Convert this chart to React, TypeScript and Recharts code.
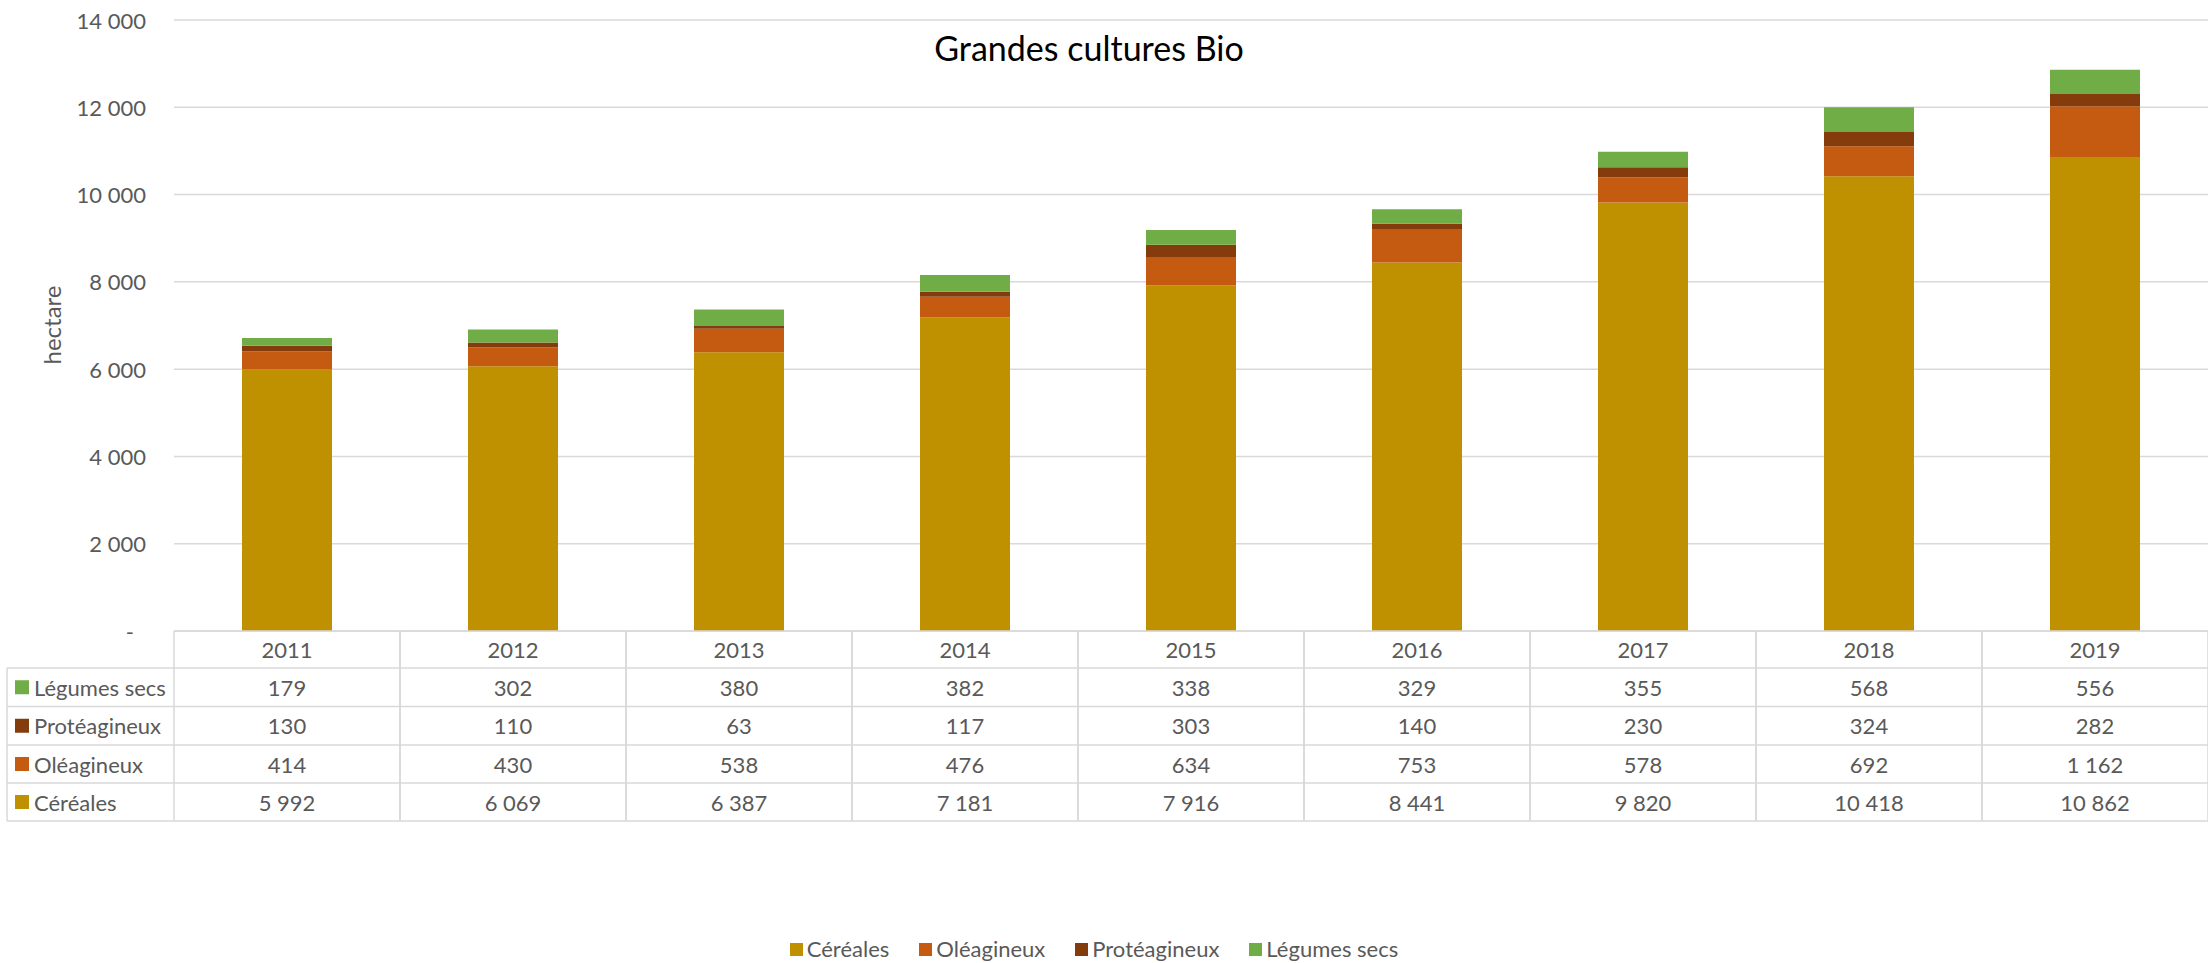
import React from 'react';
import { BarChart, Bar, XAxis, YAxis, CartesianGrid } from 'recharts';

const years = ['2011', '2012', '2013', '2014', '2015', '2016', '2017', '2018', '2019'];
const cereales = [5992, 6069, 6387, 7181, 7916, 8441, 9820, 10418, 10862];
const oleagineux = [414, 430, 538, 476, 634, 753, 578, 692, 1162];
const proteagineux = [130, 110, 63, 117, 303, 140, 230, 324, 282];
const legumes = [179, 302, 380, 382, 338, 329, 355, 568, 556];
const yTicks = [0, 2000, 4000, 6000, 8000, 10000, 12000, 14000];

const series = [
  { key: 'cereales', name: 'Céréales', color: '#BF9000', values: cereales },
  { key: 'oleagineux', name: 'Oléagineux', color: '#C55A11', values: oleagineux },
  { key: 'proteagineux', name: 'Protéagineux', color: '#843C0C', values: proteagineux },
  { key: 'legumes', name: 'Légumes secs', color: '#70AD47', values: legumes },
];
// table rows order (top to bottom)
const tableRows = [series[3], series[2], series[1], series[0]];

const data = years.map((y, i) => ({
  year: y,
  cereales: cereales[i],
  oleagineux: oleagineux[i],
  proteagineux: proteagineux[i],
  legumes: legumes[i],
}));

const W = 2208;
const H = 963;
const PLOT_LEFT = 174;
const PLOT_W = W - PLOT_LEFT;
const COL_W = PLOT_W / years.length;
const ROW_EDGES = [0, 37, 75.5, 114, 152, 190];
const TABLE_LEFT = 7;
const FONT = 'Lato, "Open Sans", sans-serif';
const TXT = '#595959';
const BORDER = '#D9D9D9';

const fmt = (n: number) => (n === 0 ? '-' : String(n).replace(/\B(?=(\d{3})+(?!\d))/g, ' '));

const YTick = (props: any) => {
  const { x, y, payload } = props;
  const v = payload.value;
  return (
    <text x={v === 0 ? x - 12 : x} y={y} textAnchor="end" dominantBaseline="central"
      fill={TXT} fontSize={22} fontFamily={FONT}>
      {fmt(v)}
    </text>
  );
};

const XTick = (props: any) => {
  const { x, y, payload, index } = props;
  const i = years.indexOf(payload.value);
  const top = y;
  const l = x - COL_W / 2;
  const r = x + COL_W / 2;
  const els: any[] = [];
  els.push(<line key="vl" x1={l} x2={l} y1={top} y2={top + ROW_EDGES[5]} stroke={BORDER} strokeWidth={1.5} />);
  els.push(<line key="vr" x1={r} x2={r} y1={top} y2={top + ROW_EDGES[5]} stroke={BORDER} strokeWidth={1.5} />);
  ROW_EDGES.forEach((e, k) => {
    els.push(<line key={'h' + k} x1={l} x2={r} y1={top + e} y2={top + e} stroke={BORDER} strokeWidth={1.5} />);
  });
  els.push(
    <text key="yr" x={x} y={top + (ROW_EDGES[0] + ROW_EDGES[1]) / 2} textAnchor="middle"
      dominantBaseline="central" fill={TXT} fontSize={22} fontFamily={FONT}>{payload.value}</text>
  );
  tableRows.forEach((s, k) => {
    els.push(
      <text key={'t' + k} x={x} y={top + (ROW_EDGES[k + 1] + ROW_EDGES[k + 2]) / 2} textAnchor="middle"
        dominantBaseline="central" fill={TXT} fontSize={22} fontFamily={FONT}>{fmt(s.values[i])}</text>
    );
  });
  if (index === 0) {
    const ll = TABLE_LEFT;
    els.push(<line key="ll" x1={ll} x2={ll} y1={top + ROW_EDGES[1]} y2={top + ROW_EDGES[5]} stroke={BORDER} strokeWidth={1.5} />);
    ROW_EDGES.slice(1).forEach((e, k) => {
      els.push(<line key={'lh' + k} x1={ll} x2={l} y1={top + e} y2={top + e} stroke={BORDER} strokeWidth={1.5} />);
    });
    tableRows.forEach((s, k) => {
      const cy = top + (ROW_EDGES[k + 1] + ROW_EDGES[k + 2]) / 2;
      els.push(<rect key={'sq' + k} x={15} y={cy - 7} width={14} height={14} fill={s.color} />);
      els.push(
        <text key={'lt' + k} x={34} y={cy} textAnchor="start" dominantBaseline="central"
          fill={TXT} fontSize={22} fontFamily={FONT}>{s.name}</text>
      );
    });
  }
  return <g>{els}</g>;
};

export default function App() {
  return (
    <div style={{ position: 'absolute', left: 0, top: 0, width: W, height: H, background: '#fff' }}>
      <BarChart width={W} height={H} data={data} margin={{ top: 20, right: 0, left: 0, bottom: 0 }}>
        <CartesianGrid vertical={false} stroke={BORDER} strokeWidth={1.5} />
        <YAxis domain={[0, 14000]} ticks={yTicks} width={PLOT_LEFT} axisLine={false} tickLine={false}
          tickSize={0} tickMargin={28} tick={<YTick />} interval={0} />
        <XAxis dataKey="year" height={332} axisLine={false} tickLine={false} tickSize={0} tickMargin={0}
          tick={<XTick />} interval={0} />
        {series.map((s) => (
          <Bar key={s.key} dataKey={s.key} name={s.name} stackId="a" fill={s.color} barSize={90}
            isAnimationActive={false} />
        ))}
      </BarChart>
      <div style={{ position: 'absolute', left: 1089, top: 48, transform: 'translate(-50%, -50%)',
        fontFamily: FONT, fontSize: 34, color: '#000', lineHeight: '42px', whiteSpace: 'nowrap' }}>
        Grandes cultures Bio
      </div>
      <div style={{ position: 'absolute', left: 52, top: 325, transform: 'translate(-50%, -50%) rotate(-90deg)',
        fontFamily: FONT, fontSize: 24, color: TXT, whiteSpace: 'nowrap', lineHeight: '28px' }}>
        hectare
      </div>
      <div style={{ position: 'absolute', left: 0, width: W, top: 936, display: 'flex', justifyContent: 'center',
        fontFamily: FONT, fontSize: 22, color: TXT, lineHeight: '26px' }}>
        <div style={{ display: 'flex', gap: 30, marginLeft: -20 }}>
          {series.map((s) => (
            <div key={s.key} style={{ display: 'flex', alignItems: 'center', gap: 4 }}>
              <span style={{ display: 'inline-block', width: 13, height: 13, background: s.color }} />
              <span>{s.name}</span>
            </div>
          ))}
        </div>
      </div>
    </div>
  );
}
